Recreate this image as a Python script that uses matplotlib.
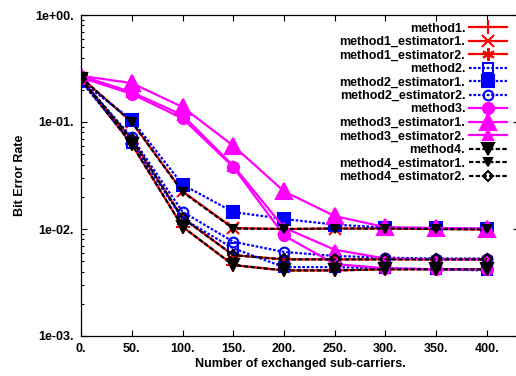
import math
import matplotlib
matplotlib.use("Agg")
import matplotlib.pyplot as plt
from matplotlib.offsetbox import VPacker
from matplotlib.ticker import FixedLocator, LogLocator, FuncFormatter, NullFormatter

# x axis: number of exchanged sub-carriers
subcarriers = [0, 50, 100, 150, 200, 250, 300, 350, 400]
x_tick_labels = ["0.", "50.", "100.", "150.", "200.", "250.", "300.", "350.", "400."]

# BER values
method1 = [0.25, 0.062, 0.0105, 0.0046, 0.0041, 0.0041, 0.0042, 0.0042, 0.0042]
method1_est1 = [0.26, 0.100, 0.0225, 0.0102, 0.0100, 0.0101, 0.0101, 0.0100, 0.0099]
method1_est2 = [0.25, 0.069, 0.0127, 0.0057, 0.0052, 0.0052, 0.0052, 0.0052, 0.0052]

method2 = [0.24, 0.064, 0.0125, 0.0066, 0.0044, 0.0044, 0.0043, 0.0042, 0.0041]
method2_est1 = [0.24, 0.105, 0.026, 0.0144, 0.0124, 0.0110, 0.0103, 0.0102, 0.0101]
method2_est2 = [0.25, 0.072, 0.0145, 0.0076, 0.0061, 0.0056, 0.0054, 0.0053, 0.0053]

method3 = [0.26, 0.183, 0.108, 0.038, 0.0087, 0.0047, 0.0043, 0.0042, 0.0042]
method3_est1 = [0.27, 0.231, 0.138, 0.060, 0.0225, 0.0132, 0.0104, 0.0102, 0.0101]
method3_est2 = [0.27, 0.190, 0.116, 0.039, 0.0103, 0.0064, 0.0053, 0.0052, 0.0052]

method4 = [0.25, 0.062, 0.0105, 0.0046, 0.0041, 0.0041, 0.0042, 0.0042, 0.0042]
method4_est1 = [0.26, 0.100, 0.0222, 0.0101, 0.0100, 0.0101, 0.0101, 0.0100, 0.0099]
method4_est2 = [0.25, 0.069, 0.0127, 0.0057, 0.0052, 0.0052, 0.0052, 0.0052, 0.0052]

W, H = 516, 376
fig = plt.figure(figsize=(W / 100, H / 100), dpi=100)
# axes box in pixels: left 81, top 15, bottom 336, right edge falls just outside the picture
left, top, bottom, right = 81, 15, 336, 519
ax = fig.add_axes([left / W, (H - bottom) / H, (right - left) / W, (bottom - top) / H])

fam = ["Liberation Sans", "DejaVu Sans"]
fs = 9

red = "#ff0000"
blue = "#0000ff"
mag = "#ff00ff"
blk = "#000000"
dot = (0, (1.2, 0.8))
dash = (0, (2.0, 1.0))

series = [
    (method1, "method1.", red, "-", "+", 10, True),
    (method1_est1, "method1_estimator1.", red, "-", "x", 8, True),
    (method1_est2, "method1_estimator2.", red, "-", (6, 2, 0), 9, True),
    (method2, "method2.", blue, dot, "s", 7, False),
    (method2_est1, "method2_estimator1.", blue, dot, "s", 8, True),
    (method2_est2, "method2_estimator2.", blue, dot, "o", 7, False),
    (method3, "method3.", mag, "-", "o", 8, True),
    (method3_est1, "method3_estimator1.", mag, "-", "^", 11, True),
    (method3_est2, "method3_estimator2.", mag, "-", "^", 7, True),
    (method4, "method4.", blk, dash, "v", 8, True),
    (method4_est1, "method4_estimator1.", blk, dash, "v", 6, True),
    (method4_est2, "method4_estimator2.", blk, dash, "D", 5, False),
]

for ys, lab, col, ls, mk, ms, filled in series:
    ax.plot(subcarriers, ys, color=col, linestyle=ls, linewidth=1.6,
            marker=mk, markersize=ms, markeredgewidth=1.5,
            markerfacecolor=col if filled else "none", markeredgecolor=col,
            label=lab)

ax.set_yscale("log")
ax.set_ylim(1e-3, 1e0)
ax.set_xlim(0, (right - left) * 400 / 406)

ax.xaxis.set_major_locator(FixedLocator(subcarriers))
ax.set_xticklabels(x_tick_labels, family=fam, weight="bold", fontsize=fs)
ax.yaxis.set_major_locator(LogLocator(base=10, numticks=10))
ax.yaxis.set_minor_locator(LogLocator(base=10, subs=range(2, 10), numticks=20))
ax.yaxis.set_major_formatter(FuncFormatter(lambda v, p: "1e%+03d." % round(math.log10(v))))
ax.yaxis.set_minor_formatter(NullFormatter())
for t in ax.get_yticklabels():
    t.set_fontfamily(fam)
    t.set_fontweight("bold")
    t.set_fontsize(fs)

ax.tick_params(which="both", direction="in", top=True, right=True, width=0.8, colors="black")
ax.tick_params(which="major", length=4.5)
ax.tick_params(which="minor", length=2.5)
ax.tick_params(axis="x", pad=5)
ax.tick_params(axis="y", pad=5)
for s in ax.spines.values():
    s.set_linewidth(0.9)

ax.set_xlabel("Number of exchanged sub-carriers.", family=fam, weight="bold", fontsize=fs, labelpad=2)
ax.set_ylabel("Bit Error Rate", family=fam, weight="bold", fontsize=fs, labelpad=7)

leg = ax.legend(loc="upper right", bbox_to_anchor=((514 - left) / (right - left), 1.0),
                frameon=False, markerfirst=False, handlelength=3.0, handletextpad=0.3,
                labelspacing=0.12, borderaxespad=0.2,
                prop={"family": fam, "weight": "bold", "size": fs})
for vp in leg.findobj(VPacker):
    vp.align = "right"

fig.savefig("out.png", dpi=100)
